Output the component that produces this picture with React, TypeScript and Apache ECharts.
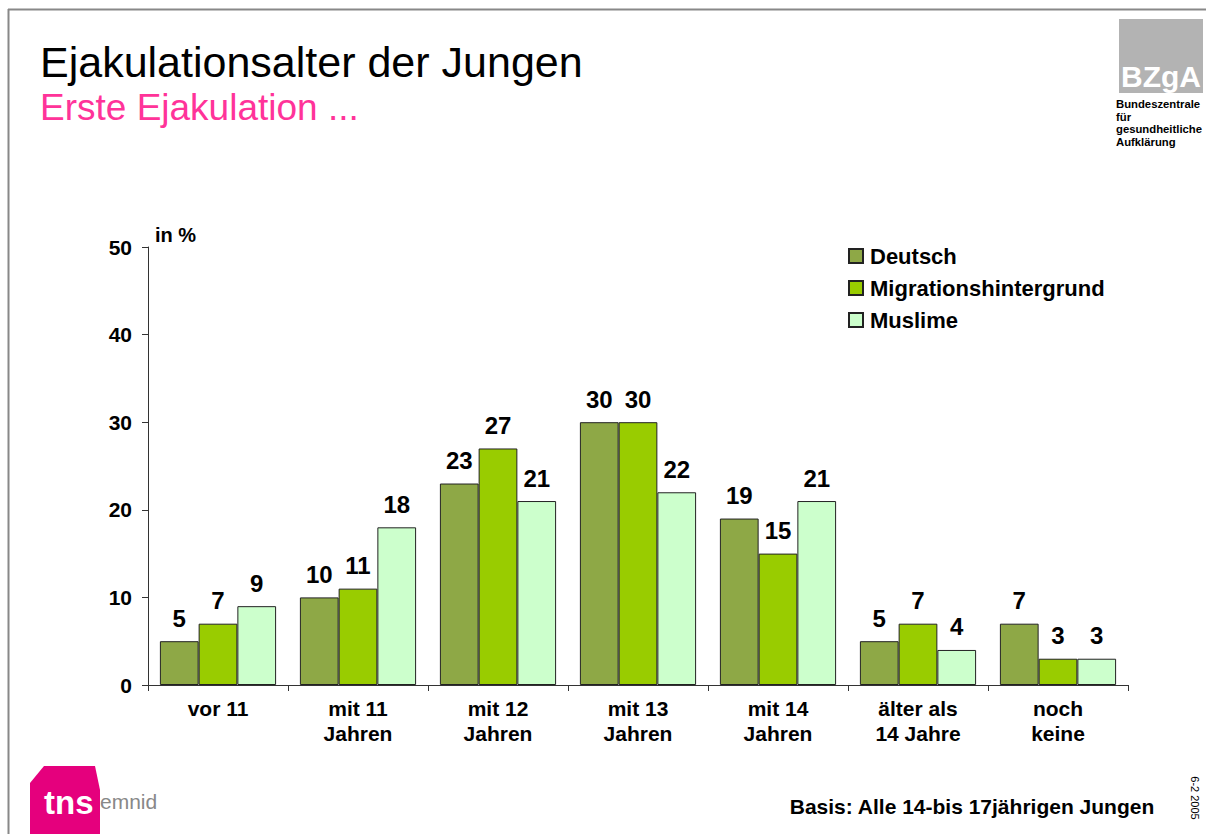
import React, { useEffect, useRef } from "react";
import * as echarts from "echarts";

const categories = ["vor 11", "mit 11\nJahren", "mit 12\nJahren", "mit 13\nJahren", "mit 14\nJahren", "älter als\n14 Jahre", "noch\nkeine"];
const seriesNames = ["Deutsch", "Migrationshintergrund", "Muslime"];
const deutsch = [5, 10, 23, 30, 19, 5, 7];
const migration = [7, 11, 27, 30, 15, 7, 3];
const muslime = [9, 18, 21, 22, 21, 4, 3];
const seriesColors = ["#8EA846", "#99CC00", "#CCFFCC"];
const yTicks = { min: 0, max: 50, interval: 10 };

const FONT = "Liberation Sans, Arial, sans-serif";

export default function App() {
  const ref = useRef<HTMLDivElement>(null);
  useEffect(() => {
    if (!ref.current) return;
    const chart = echarts.init(ref.current, undefined, { renderer: "svg" });
    const values = [deutsch, migration, muslime];
    chart.setOption({
      animation: false,
      backgroundColor: "#ffffff",
      textStyle: { fontFamily: FONT },
      grid: { left: 148, right: 78, top: 247, bottom: 149, containLabel: false },
      legend: {
        orient: "vertical",
        left: 843,
        top: 240,
        itemWidth: 14,
        itemHeight: 14,
        itemGap: 10,
        icon: "rect",
        textStyle: { fontFamily: FONT, fontSize: 22, fontWeight: "bold", color: "#000", padding: [0, 0, 0, 2] },
        data: seriesNames,
      },
      xAxis: {
        type: "category",
        data: categories,
        axisLine: { lineStyle: { color: "#333", width: 1 } },
        axisTick: { show: true, length: 6, lineStyle: { color: "#333" } },
        axisLabel: {
          interval: 0,
          margin: 11,
          fontFamily: FONT,
          fontSize: 21,
          fontWeight: "bold",
          color: "#000",
          lineHeight: 25,
        },
      },
      yAxis: {
        type: "value",
        min: yTicks.min,
        max: yTicks.max,
        interval: yTicks.interval,
        splitLine: { show: false },
        axisLine: { show: true, lineStyle: { color: "#333", width: 1 } },
        axisTick: { show: true, length: 6, lineStyle: { color: "#333" } },
        axisLabel: { margin: 16, fontFamily: FONT, fontSize: 21, fontWeight: "bold", color: "#000" },
      },
      series: seriesNames.map((name, i) => ({
        name,
        type: "bar",
        data: values[i],
        barGap: "0%",
        barCategoryGap: "17%",
        itemStyle: { color: seriesColors[i], borderColor: "#222", borderWidth: 1 },
        label: {
          show: true,
          position: "top",
          distance: 11,
          fontFamily: FONT,
          fontSize: 24,
          fontWeight: "bold",
          color: "#000",
        },
      })),
      graphic: [
        // frame lines
        { type: "line", shape: { x1: 8.5, y1: 9, x2: 8.5, y2: 834 }, style: { stroke: "#888", lineWidth: 2 } },
        { type: "line", shape: { x1: 8, y1: 9.5, x2: 1206, y2: 9.5 }, style: { stroke: "#888", lineWidth: 2 } },
        // titles
        { type: "text", left: 40, top: 40, style: { text: "Ejakulationsalter der Jungen", font: `normal 43px ${FONT}`, fill: "#000" } },
        { type: "text", left: 40, top: 89, style: { text: "Erste Ejakulation ...", font: `normal 37px ${FONT}`, fill: "#FF3399" } },
        // in %
        { type: "text", left: 155, top: 225, style: { text: "in %", font: `bold 20px ${FONT}`, fill: "#000" } },
        // BZgA logo
        { type: "rect", shape: { x: 1119, y: 19, width: 84, height: 74 }, style: { fill: "#B3B3B3" } },
        { type: "text", x: 1161, y: 76, style: { text: "BZgA", font: `bold 30px ${FONT}`, fill: "#fff", align: "center", verticalAlign: "middle" } },
        { type: "text", left: 1116, top: 98, style: { text: "Bundeszentrale\nfür\ngesundheitliche\nAufklärung", font: `bold 11.3px ${FONT}`, lineHeight: 12.5, fill: "#000" } },
        // tns emnid logo
        {
          type: "polygon",
          shape: { points: [[30, 783], [44, 766], [95, 766], [100, 790], [100, 834], [30, 834]] },
          style: { fill: "#E5007D" },
        },
        { type: "text", left: 44, top: 786, style: { text: "tns", font: `bold 33px ${FONT}`, fill: "#fff" } },
        { type: "text", left: 100, top: 791, style: { text: "emnid", font: `normal 21px ${FONT}`, fill: "#888" } },
        // footer
        { type: "text", right: 51, top: 796, style: { text: "Basis: Alle 14-bis 17jährigen Jungen", font: `bold 21px ${FONT}`, fill: "#000" } },
        { type: "text", x: 1195, y: 798, rotation: -Math.PI / 2, style: { text: "6-2 2005", font: `normal 11px ${FONT}`, fill: "#000", align: "center", verticalAlign: "middle" } },
      ],
    });
    return () => chart.dispose();
  }, []);
  return <div ref={ref} style={{ position: "fixed", left: 0, top: 0, width: 1206, height: 834 }} />;
}
